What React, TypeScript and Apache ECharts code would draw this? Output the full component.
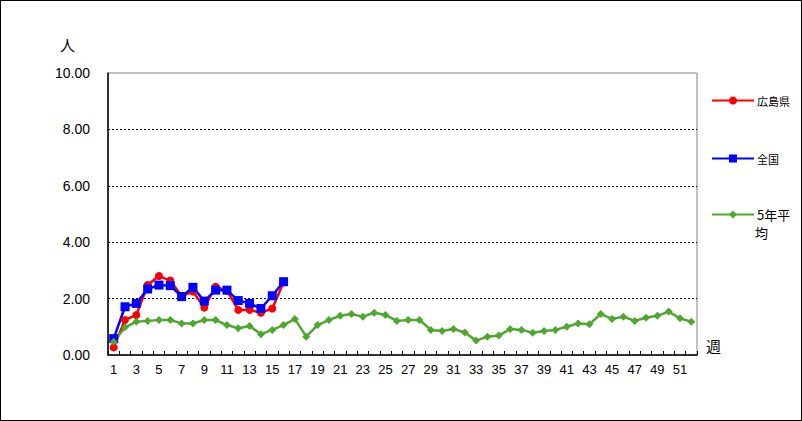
import React, { useEffect, useRef } from "react";
import * as echarts from "echarts";

const weeks: string[] = Array.from({ length: 52 }, (_, i) => String(i + 1));
const hiroshima: number[] = [0.27, 1.24, 1.42, 2.48, 2.8, 2.64, 2.09, 2.25, 1.68, 2.42, 2.28, 1.6, 1.6, 1.5, 1.65, 2.57];
const national: number[] = [0.58, 1.71, 1.83, 2.34, 2.48, 2.46, 2.07, 2.4, 1.91, 2.3, 2.3, 1.93, 1.83, 1.65, 2.1, 2.6];
const fiveYearAvg: number[] = [
  0.47, 0.98, 1.18, 1.21, 1.24, 1.24, 1.12, 1.12, 1.24, 1.24, 1.06, 0.95, 1.03, 0.74, 0.89, 1.06, 1.28,
  0.65, 1.06, 1.24, 1.39, 1.45, 1.36, 1.5, 1.42, 1.21, 1.24, 1.24, 0.89, 0.85, 0.92, 0.8, 0.51, 0.65, 0.69,
  0.92, 0.89, 0.79, 0.85, 0.89, 1.0, 1.12, 1.09, 1.45, 1.28, 1.36, 1.21, 1.32, 1.39, 1.54, 1.3, 1.18,
];
const yTicks = { min: 0, max: 10, interval: 2 };

const FONT = 'Arial, "Liberation Sans", "Noto Sans CJK JP", sans-serif';
const JP = '"Noto Sans CJK JP", sans-serif';

export default function App() {
  const ref = useRef<HTMLDivElement>(null);
  useEffect(() => {
    if (!ref.current) return;
    const chart = echarts.init(ref.current, undefined, { renderer: "svg" });
    const legendBase = {
      left: 711,
      padding: 0,
      itemWidth: 42,
      itemHeight: 10,
      itemGap: 4,
    };
    chart.setOption({
      animation: false,
      grid: {
        left: 108,
        top: 73,
        width: 589,
        height: 282,
        show: true,
        borderColor: "#808080",
        borderWidth: 1,
        backgroundColor: "#ffffff",
      },
      legend: [
        {
          ...legendBase,
          data: ["広島県"],
          top: 95,
          textStyle: { fontFamily: JP, fontSize: 11, color: "#000", padding: [0, 0, 0, -2] },
        },
        {
          ...legendBase,
          data: ["全国"],
          top: 153,
          textStyle: { fontFamily: JP, fontSize: 11, color: "#000", padding: [0, 0, 0, -2] },
        },
        {
          ...legendBase,
          data: ["5年平均"],
          top: 208,
          formatter: () => "5年平",
          textStyle: { fontFamily: JP, fontSize: 13, color: "#000", padding: [0, 0, 0, -2] },
        },
      ],
      graphic: [
        {
          type: "text",
          left: 60,
          top: 37,
          style: { text: "人", font: `15px ${JP}`, fill: "#000" },
        },
        {
          type: "text",
          left: 706,
          top: 338,
          style: { text: "週", font: `15px ${JP}`, fill: "#000" },
        },
        {
          type: "text",
          left: 755,
          top: 226,
          style: { text: "均", font: `13px ${JP}`, fill: "#000" },
        },
      ],
      xAxis: {
        type: "category",
        data: weeks,
        boundaryGap: true,
        axisLine: { show: true, lineStyle: { color: "#000", width: 1.5 } },
        axisTick: { show: true, inside: true, length: 4, interval: 0, lineStyle: { color: "#000" } },
        axisLabel: { interval: 1, margin: 8, fontFamily: FONT, fontSize: 13, color: "#000" },
        splitLine: { show: false },
      },
      yAxis: {
        type: "value",
        min: yTicks.min,
        max: yTicks.max,
        interval: yTicks.interval,
        axisLine: { show: true, lineStyle: { color: "#000", width: 1.5 } },
        axisTick: { show: false },
        axisLabel: {
          margin: 18,
          fontFamily: FONT,
          fontSize: 14,
          color: "#000",
          formatter: (v: number) => v.toFixed(2),
        },
        splitLine: {
          show: true,
          showMinLine: false,
          showMaxLine: false,
          lineStyle: { color: "#000", type: [2, 2], width: 1 },
        },
      },
      series: [
        {
          name: "広島県",
          type: "line",
          data: hiroshima,
          color: "#ff0000",
          symbol: "circle",
          symbolSize: 8,
          showAllSymbol: true,
          lineStyle: { width: 2.5, color: "#ff0000" },
          itemStyle: { color: "#ff0000" },
        },
        {
          name: "全国",
          type: "line",
          data: national,
          color: "#0000ff",
          symbol: "rect",
          symbolSize: 9,
          showAllSymbol: true,
          lineStyle: { width: 2.5, color: "#0000ff" },
          itemStyle: { color: "#0000ff" },
        },
        {
          name: "5年平均",
          type: "line",
          data: fiveYearAvg,
          color: "#4ea72e",
          symbol: "diamond",
          symbolSize: 8,
          showAllSymbol: true,
          lineStyle: { width: 2.5, color: "#4ea72e" },
          itemStyle: { color: "#4ea72e" },
        },
      ],
    });
    return () => chart.dispose();
  }, []);
  return (
    <div
      style={{
        position: "fixed",
        left: 0,
        top: 0,
        width: 802,
        height: 421,
        boxSizing: "border-box",
        border: "1px solid #000",
        background: "#fff",
      }}
    >
      <div
        ref={ref}
        style={{ position: "absolute", left: -1, top: -1, width: 802, height: 421 }}
      />
    </div>
  );
}
